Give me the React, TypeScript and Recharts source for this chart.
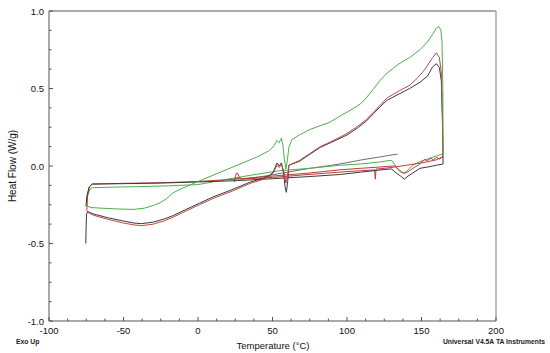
import { LineChart, Line, XAxis, YAxis, ReferenceLine } from "recharts";

type Pt = [number, number];

// temperature (°C), heat flow (W/g)
const greenHeat: Pt[] = [
  [-74.5, -0.24], [-74, -0.26], [-72, -0.268], [-65, -0.272], [-55, -0.277], [-43, -0.28],
  [-36, -0.272], [-30, -0.255], [-25, -0.235], [-21, -0.21], [-17, -0.175], [-12, -0.15],
  [-6, -0.125], [0, -0.1], [10, -0.06], [20, -0.02], [30, 0.02], [40, 0.06], [48, 0.1],
  [51, 0.13], [53, 0.165], [54.5, 0.15], [56, 0.18], [57, 0.13], [58, 0.04], [59, -0.02],
  [60, 0.04], [61, 0.12], [63, 0.17], [68, 0.2], [75, 0.235], [82, 0.26], [88, 0.28],
  [95, 0.32], [104, 0.37], [109, 0.4], [113, 0.44], [118, 0.5], [122, 0.55], [127, 0.6],
  [135, 0.66], [142, 0.7], [149, 0.75], [154, 0.8], [157.5, 0.85], [160, 0.89], [161.5, 0.9],
  [163, 0.88], [163.8, 0.8], [164.3, 0.5], [164.5, 0.2], [164.6, 0.08],
];

const greenCool: Pt[] = [
  [164.6, 0.08], [160, 0.065], [155, 0.048], [149, 0.028], [145, 0.01], [142, -0.015],
  [140, -0.035], [138, -0.045], [136, -0.04], [134, -0.02], [132, 0.01], [130, 0.035],
  [128, 0.035], [122, 0.026], [109, 0.013], [95, 0.005], [75, -0.015], [55, -0.03],
  [35, -0.06], [20, -0.085], [0, -0.12], [-20, -0.128], [-40, -0.133], [-60, -0.137],
  [-71, -0.14], [-72.5, -0.15], [-74, -0.19], [-74.5, -0.24],
];

const redHeat: Pt[] = [
  [-74.6, -0.29], [-73, -0.305], [-70, -0.318], [-60, -0.345], [-50, -0.368], [-43, -0.38],
  [-38, -0.385], [-30, -0.375], [-23, -0.355], [-16.7, -0.33], [-8, -0.29], [1, -0.25],
  [10, -0.21], [23.5, -0.16], [35, -0.112], [44, -0.085], [48, -0.065], [50.5, -0.045],
  [53, 0.005], [54.5, -0.01], [56, 0.01], [57.5, -0.03], [59, -0.11], [60, -0.07],
  [61, 0.005], [68, 0.035], [75, 0.08], [82, 0.125], [90, 0.16], [100, 0.21], [107, 0.255],
  [113, 0.3], [118, 0.35], [122, 0.39], [127, 0.44], [135, 0.485], [142, 0.52], [147, 0.565],
  [152, 0.62], [157.5, 0.7], [160, 0.73], [162, 0.7], [163.3, 0.6], [164, 0.35], [164.4, 0.06],
];

const redCool: Pt[] = [
  [164.4, 0.06], [162, 0.045], [160, 0.055], [158, 0.04], [156, 0.05], [154, 0.035],
  [152, 0.042], [150, 0.025], [148, 0.006], [145, -0.01], [142, -0.03], [139.5, -0.045],
  [137.5, -0.045], [135, -0.025], [132, 0.0], [128, -0.002], [120, -0.008], [109, -0.015],
  [95, -0.025], [75, -0.045], [50, -0.065], [25, -0.085], [0, -0.1], [-25, -0.108],
  [-50, -0.112], [-65, -0.115], [-71, -0.116], [-73, -0.135], [-74.3, -0.2], [-74.6, -0.29],
];

const redFirst: Pt[] = [
  [24.3, -0.1], [25, -0.07], [25.8, -0.045], [26.8, -0.05], [27.8, -0.075], [30, -0.082],
  [40, -0.08], [55, -0.07], [70, -0.058], [85, -0.047], [100, -0.036], [110, -0.03],
  [118.5, -0.025], [119, -0.085], [119.5, -0.02], [125, -0.015], [131, -0.008], [140, 0.005],
  [150, 0.02], [160, 0.04], [164.4, 0.06],
];

const blackHeat: Pt[] = [
  [-75.3, -0.5], [-75.1, -0.4], [-74.8, -0.31], [-74, -0.295], [-72.5, -0.3], [-70, -0.31],
  [-60, -0.335], [-50, -0.355], [-43, -0.368], [-38, -0.372], [-30, -0.362], [-23, -0.343],
  [-16.7, -0.32], [-8, -0.28], [1, -0.24], [10, -0.2], [23.5, -0.15], [35, -0.104],
  [44, -0.078], [48, -0.06], [50.5, -0.04], [53, 0.02], [54.5, 0.0], [56, 0.02], [57.5, -0.05],
  [58.5, -0.14], [59.3, -0.17], [60.2, -0.1], [61, 0.005], [68, 0.03], [75, 0.075], [82, 0.12],
  [90, 0.155], [100, 0.2], [107, 0.245], [113, 0.29], [118, 0.34], [122, 0.38], [127, 0.425],
  [135, 0.465], [142, 0.5], [149, 0.54], [154, 0.58], [157.5, 0.64], [160, 0.66], [162, 0.635],
  [163.3, 0.55], [164, 0.3], [164.5, 0.013],
];

const blackCool: Pt[] = [
  [164.5, 0.013], [160, 0.005], [155, -0.005], [149, -0.015], [145, -0.04], [141, -0.065],
  [138.5, -0.085], [136, -0.065], [133, -0.045], [130, -0.02], [128, -0.02], [120, -0.028],
  [109, -0.04], [95, -0.055], [75, -0.068], [50, -0.082], [25, -0.095], [0, -0.103],
  [-25, -0.11], [-50, -0.114], [-65, -0.116], [-71, -0.117], [-73, -0.135], [-74.5, -0.19],
  [-75.2, -0.26],
];

const blackFirst: Pt[] = [
  [24.5, -0.1], [25.5, -0.08], [30, -0.085], [45, -0.065], [60, -0.04], [75, -0.015],
  [90, 0.005], [102, 0.025], [110, 0.04], [120, 0.055], [128, 0.068], [134, 0.077],
];

const xTicks = [
  -100, -87.5, -75, -62.5, -50, -37.5, -25, -12.5, 0, 12.5, 25, 37.5, 50, 62.5, 75, 87.5,
  100, 112.5, 125, 137.5, 150, 162.5, 175, 187.5, 200,
];
const yTicks = [
  -1, -0.875, -0.75, -0.625, -0.5, -0.375, -0.25, -0.125, 0, 0.125, 0.25, 0.375, 0.5,
  0.625, 0.75, 0.875, 1,
];

const toRows = (pts: Pt[]) => pts.map(([t, hf]) => ({ t, hf }));

const font = "'Liberation Sans', Arial, sans-serif";

const XTick = (props: any) => {
  const { x, y, payload } = props;
  const v = payload.value;
  const major = v % 50 === 0;
  return (
    <g>
      <line x1={x} x2={x} y1={y} y2={y - (major ? 4 : 2.5)} stroke="#555" />
      {major && (
        <text x={x} y={y + 12.5} textAnchor="middle" fontSize={9.5} fill="#111" fontFamily={font}>
          {v}
        </text>
      )}
    </g>
  );
};

const YTick = (props: any) => {
  const { x, y, payload } = props;
  const v = payload.value;
  const major = Math.abs(v * 2 - Math.round(v * 2)) < 1e-6;
  return (
    <g>
      <line x1={x} x2={x + (major ? 4 : 2.5)} y1={y} y2={y} stroke="#555" />
      {major && (
        <text x={x - 5} y={y} dy={3.5} textAnchor="end" fontSize={9.5} fill="#111" fontFamily={font}>
          {v.toFixed(1)}
        </text>
      )}
    </g>
  );
};

const series = [
  { key: "blackFirst", data: blackFirst, color: "#707070" },
  { key: "greenCool", data: greenCool, color: "#4cb04c" },
  { key: "redFirst", data: redFirst, color: "#c03a3a" },
  { key: "redCool", data: redCool, color: "#c03a3a" },
  { key: "blackCool", data: blackCool, color: "#3a3a3a" },
  { key: "blackHeat", data: blackHeat, color: "#3a3a3a" },
  { key: "redHeat", data: redHeat, color: "#c04848" },
  { key: "greenHeat", data: greenHeat, color: "#4cb04c" },
];

export default function App() {
  return (
    <div style={{ position: "absolute", left: 0, top: 0, width: 550, height: 353, background: "#fff", fontFamily: font }}>
      <LineChart width={550} height={353} margin={{ top: 11, right: 54, bottom: 0, left: 0 }}>
        <XAxis
          type="number"
          dataKey="t"
          domain={[-100, 200]}
          ticks={xTicks}
          interval={0}
          tickSize={0}
          tickMargin={0}
          tickLine={false}
          tick={XTick}
          height={32}
          stroke="#555"
          allowDataOverflow
        />
        <YAxis
          type="number"
          dataKey="hf"
          domain={[-1, 1]}
          ticks={yTicks}
          interval={0}
          tickSize={0}
          tickMargin={0}
          tickLine={false}
          tick={YTick}
          width={49}
          stroke="#555"
          allowDataOverflow
        />
        <ReferenceLine y={1} stroke="#aaa" strokeWidth={2} />
        <ReferenceLine x={200} stroke="#aaa" strokeWidth={1.5} />
        {series.map((s) => (
          <Line
            key={s.key}
            data={toRows(s.data)}
            dataKey="hf"
            type="linear"
            stroke={s.color}
            strokeWidth={1}
            dot={false}
            activeDot={false}
            isAnimationActive={false}
          />
        ))}
      </LineChart>
      <div
        style={{
          position: "absolute", left: 12, top: 166, fontSize: 10, color: "#111",
          transform: "translate(-50%, -50%) rotate(-90deg)", whiteSpace: "nowrap",
        }}
      >
        Heat Flow (W/g)
      </div>
      <div
        style={{
          position: "absolute", left: 273, top: 345, fontSize: 9.5, color: "#111",
          transform: "translate(-50%, -50%)", whiteSpace: "nowrap",
        }}
      >
        Temperature (°C)
      </div>
      <div style={{ position: "absolute", left: 16, top: 338, fontSize: 6.8, fontWeight: "bold", color: "#222", whiteSpace: "nowrap" }}>
        Exo Up
      </div>
      <div style={{ position: "absolute", right: 5, top: 338, fontSize: 6.8, fontWeight: "bold", color: "#222", whiteSpace: "nowrap" }}>
        Universal V4.5A TA Instruments
      </div>
    </div>
  );
}
